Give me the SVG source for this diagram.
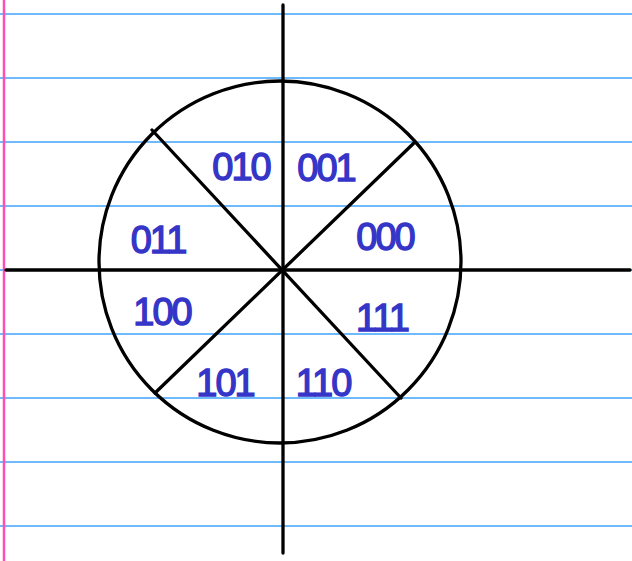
<svg xmlns="http://www.w3.org/2000/svg" width="632" height="561" viewBox="0 0 632 561">
<style>
.rule{stroke:#3fa3ff;stroke-width:1.5}
.ink{stroke:#000;stroke-width:3.3;fill:none;stroke-linecap:round}
.lbl{font-family:"Liberation Sans",Arial,sans-serif;font-size:38px;letter-spacing:-2px;fill:#3535c8;stroke:#3535c8;stroke-width:1.4;text-anchor:middle;dominant-baseline:central}
</style>
<rect width="632" height="561" fill="#fff"/>
<g id="paper">
<line class="rule" x1="0" y1="14" x2="632" y2="14"/>
<line class="rule" x1="0" y1="78" x2="632" y2="78"/>
<line class="rule" x1="0" y1="142" x2="632" y2="142"/>
<line class="rule" x1="0" y1="206" x2="632" y2="206"/>
<line class="rule" x1="0" y1="270" x2="632" y2="270"/>
<line class="rule" x1="0" y1="334" x2="632" y2="334"/>
<line class="rule" x1="0" y1="398" x2="632" y2="398"/>
<line class="rule" x1="0" y1="462" x2="632" y2="462"/>
<line class="rule" x1="0" y1="526" x2="632" y2="526"/>
<line x1="4" y1="0" x2="4" y2="561" stroke="#ff4fb0" stroke-width="2.5"/>
</g>
<g id="connectors">
<circle class="ink" cx="280" cy="262" r="181"/>
<line class="ink" x1="283" y1="5" x2="283" y2="553"/>
<line class="ink" x1="6" y1="270" x2="630" y2="270"/>
<line class="ink" x1="152" y1="130" x2="401" y2="398"/>
<line class="ink" x1="415" y1="142" x2="155" y2="393"/>
</g>
<g id="n010"><text class="lbl" x="241" y="167">010</text></g>
<g id="n001"><text class="lbl" x="326" y="168">001</text></g>
<g id="n011"><text class="lbl" x="158" y="240">011</text></g>
<g id="n000"><text class="lbl" x="385" y="237">000</text></g>
<g id="n100"><text class="lbl" x="162" y="312">100</text></g>
<g id="n111"><text class="lbl" x="382" y="318">111</text></g>
<g id="n101"><text class="lbl" x="225" y="383">101</text></g>
<g id="n110"><text class="lbl" x="323" y="383">110</text></g>
</svg>
